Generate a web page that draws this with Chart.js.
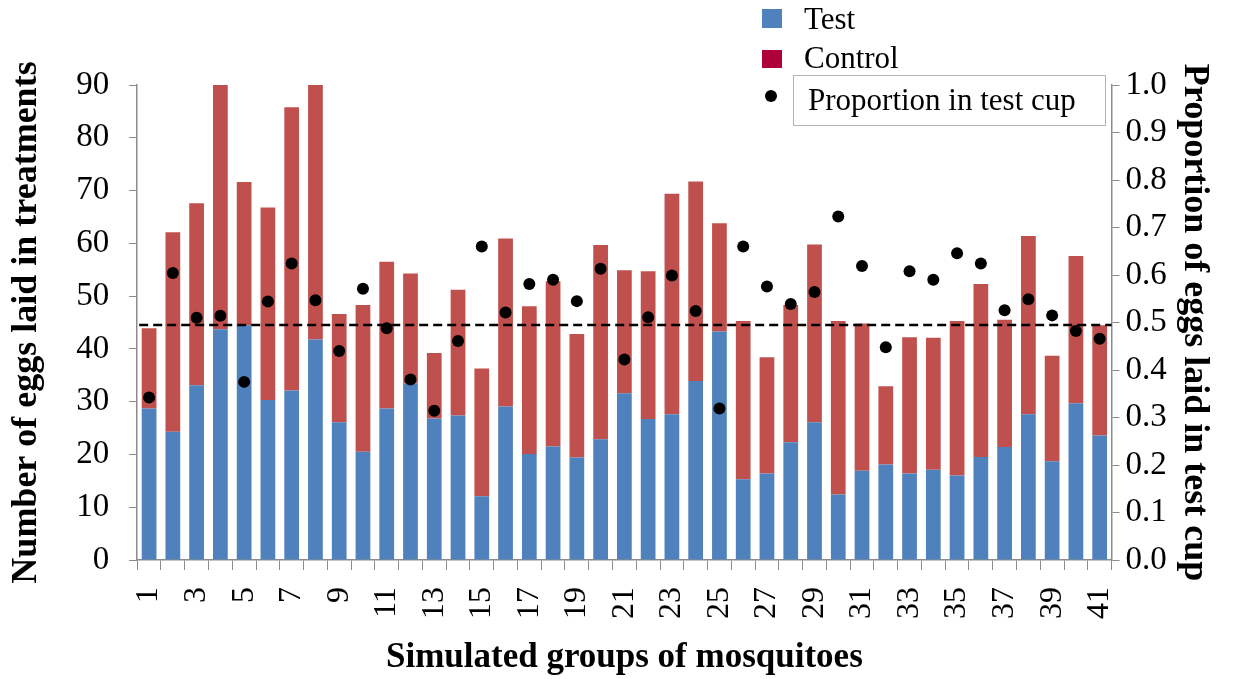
<!DOCTYPE html>
<html>
<head>
<meta charset="utf-8">
<script src="https://cdn.jsdelivr.net/npm/chart.js@4/dist/chart.umd.min.js"></script>
<style>
  body { margin: 0; background: #fff; }
  #wrap { width: 1236px; height: 679px; }
</style>
</head>
<body>
<div id="wrap"><canvas id="eggs"></canvas></div>
<script>
const groups = Array.from({ length: 41 }, (_, i) => String(i + 1));

const testEggs = [28.7, 24.3, 33.1, 43.7, 44.5, 30.3, 32.1, 41.8, 26.1, 20.5,
  28.7, 33.5, 26.8, 27.4, 12.1, 29.1, 20.1, 21.5, 19.4, 22.9,
  31.6, 26.7, 27.6, 33.9, 43.3, 15.3, 16.4, 22.3, 26.1, 12.4,
  16.9, 18.1, 16.4, 17.1, 16.0, 19.5, 21.4, 27.6, 18.7, 29.7, 23.6];

const controlEggs = [15.2, 37.8, 34.5, 46.3, 27.1, 36.5, 53.7, 48.2, 20.5, 27.8,
  27.8, 20.8, 12.4, 23.8, 24.2, 31.8, 28.0, 31.3, 23.4, 36.8,
  23.3, 28.0, 41.8, 37.8, 20.5, 30.0, 22.0, 26.0, 33.7, 32.9,
  27.9, 14.8, 25.8, 25.0, 29.3, 32.8, 24.1, 33.8, 20.0, 27.9, 20.9];

const proportion = [0.342, 0.604, 0.510, 0.514, 0.375, 0.544, 0.624, 0.547, 0.440, 0.571,
  0.488, 0.380, 0.314, 0.461, 0.660, 0.521, 0.581, 0.590, 0.545, 0.613,
  0.422, 0.511, 0.599, 0.524, 0.319, 0.660, 0.576, 0.539, 0.564, 0.723,
  0.619, 0.448, 0.608, 0.590, 0.646, 0.624, 0.526, 0.549, 0.515, 0.482, 0.466];

const eggTicks = [0, 10, 20, 30, 40, 50, 60, 70, 80, 90];
const propTicks = [0, 0.1, 0.2, 0.3, 0.4, 0.5, 0.6, 0.7, 0.8, 0.9, 1.0];
const refLine = 0.495;

const serif = "'Liberation Serif', 'Times New Roman', serif";
const axisGrey = "#8c8c8c";

// dashed reference line, drawn before the dots
const refLinePlugin = {
  id: "refLine",
  beforeDatasetDraw(chart, args) {
    if (args.index !== 2) return;
    const { ctx, chartArea } = chart;
    const y = chart.scales.y1.getPixelForValue(refLine);
    ctx.save();
    ctx.strokeStyle = "#000";
    ctx.lineWidth = 2.5;
    ctx.setLineDash([9, 5]);
    ctx.beginPath();
    ctx.moveTo(chartArea.left + 2, y);
    ctx.lineTo(chartArea.right, y);
    ctx.stroke();
    ctx.restore();
  }
};

// legend laid out like the original: two squares, then a boxed dot entry
const legendPlugin = {
  id: "oldLegend",
  afterDraw(chart) {
    const ctx = chart.ctx;
    const ds = chart.data.datasets;
    ctx.save();
    ctx.font = "31px " + serif;
    ctx.textBaseline = "middle";
    ctx.fillStyle = "#4f81bd";
    ctx.fillRect(762, 9, 20, 19);
    ctx.fillStyle = "#b0003a";
    ctx.fillRect(762, 50, 20, 18);
    ctx.strokeStyle = "#b4b4b4";
    ctx.lineWidth = 1;
    ctx.strokeRect(793.5, 75.5, 312, 50);
    ctx.fillStyle = "#000";
    ctx.beginPath();
    ctx.arc(771, 96, 6, 0, Math.PI * 2);
    ctx.fill();
    ctx.fillText(ds[0].label, 804, 21);
    ctx.fillText(ds[1].label, 804, 60);
    ctx.fillText(ds[2].label, 808, 102);
    ctx.restore();
  }
};

new Chart(document.getElementById("eggs"), {
  type: "bar",
  data: {
    labels: groups,
    datasets: [
      {
        label: "Test",
        data: testEggs,
        backgroundColor: "#4f81bd",
        stack: "eggs",
        order: 1,
        barPercentage: 0.62,
        categoryPercentage: 1
      },
      {
        label: "Control",
        data: controlEggs,
        backgroundColor: "#c0504d",
        stack: "eggs",
        order: 1,
        barPercentage: 0.62,
        categoryPercentage: 1
      },
      {
        type: "line",
        label: "Proportion in test cup",
        data: proportion,
        yAxisID: "y1",
        showLine: false,
        pointRadius: 6,
        pointBackgroundColor: "#000",
        pointBorderWidth: 0,
        order: 0
      }
    ]
  },
  options: {
    responsive: true,
    maintainAspectRatio: false,
    animation: false,
    layout: { padding: { top: 85, right: 18, left: 5, bottom: 0 } },
    plugins: {
      legend: { display: false },
      tooltip: { enabled: false }
    },
    scales: {
      x: {
        stacked: true,
        grid: { offset: true, drawOnChartArea: false, tickLength: 10, color: axisGrey },
        border: { color: axisGrey, width: 1.5 },
        ticks: {
          autoSkip: false,
          minRotation: 90,
          maxRotation: 90,
          padding: 17,
          color: "#000",
          font: { family: serif, size: 32 },
          callback: (v, i) => (i % 2 === 0 ? groups[i] : "")
        },
        title: {
          display: true,
          text: "Simulated groups of mosquitoes",
          color: "#000",
          font: { family: serif, size: 35, weight: "bold" },
          padding: { top: 1, bottom: 0 }
        }
      },
      y: {
        stacked: true,
        min: 0,
        max: 90,
        afterBuildTicks: (s) => { s.ticks = eggTicks.map((v) => ({ value: v })); },
        grid: { drawOnChartArea: false, tickLength: 8, color: axisGrey },
        border: { color: axisGrey, width: 1.5 },
        ticks: {
          color: "#000",
          padding: 20,
          font: { family: serif, size: 33 }
        },
        title: {
          display: true,
          text: "Number of eggs laid in treatments",
          color: "#000",
          font: { family: serif, size: 36, weight: "bold" },
          padding: { top: 0, bottom: 8 }
        }
      },
      y1: {
        position: "right",
        min: 0,
        max: 1,
        afterBuildTicks: (s) => { s.ticks = propTicks.map((v) => ({ value: v })); },
        grid: { drawOnChartArea: false, tickLength: 8, color: axisGrey },
        border: { color: axisGrey, width: 1.5 },
        ticks: {
          color: "#000",
          padding: 6,
          font: { family: serif, size: 33 },
          callback: (v) => v.toFixed(1)
        },
        title: {
          display: true,
          text: "Proportion of eggs laid in test cup",
          color: "#000",
          font: { family: serif, size: 36, weight: "bold" },
          padding: { top: 2, bottom: 0 }
        }
      }
    }
  },
  plugins: [refLinePlugin, legendPlugin]
});
</script>
</body>
</html>
